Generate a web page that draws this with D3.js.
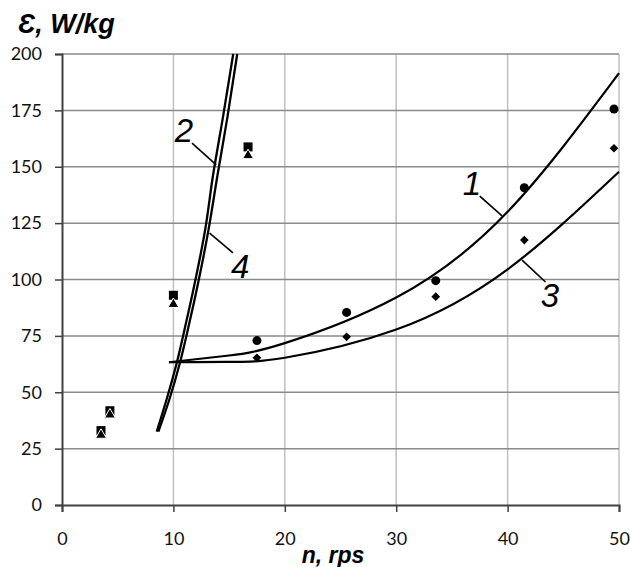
<!DOCTYPE html>
<html><head><meta charset="utf-8">
<script src="https://cdn.jsdelivr.net/npm/d3@7"></script>
<style>html,body{margin:0;padding:0;background:#fff;}</style>
</head><body>
<svg id="c" width="630" height="567"></svg>
<script>
// ---- data ----
const xTicks = [0, 10, 20, 30, 40, 50];
const yTicks = [0, 25, 50, 75, 100, 125, 150, 175, 200];

// measured points
const sqX = [3.5, 4.3, 10, 16.7];
const sqY = [33, 41.8, 93, 158.8];
const triX = [3.5, 4.3, 10, 16.7];
const triY = [31, 40, 89, 155];
const circX = [17.5, 25.55, 33.55, 41.5, 49.55];
const circY = [72.9, 85.4, 99.5, 140.7, 175.6];
const diaX = [17.5, 25.55, 33.55, 41.5, 49.55];
const diaY = [65.3, 74.6, 92.4, 117.5, 158.2];

// curves
const c1X = [9.6, 15, 20, 30, 40, 50];
const c1Y = [63.3, 66.3, 71.8, 92, 130, 191.5];
const c3X = [9.6, 15, 20, 30, 40, 50];
const c3Y = [63.3, 63.5, 65.3, 77.8, 104.5, 147.8];
const c2X = [8.5, 9.4, 10.3, 11.1, 11.9, 12.85, 13.55, 14.45, 15.37];
const c2Y = [32.5, 47, 63, 80, 98, 122, 146, 172, 200];
const c4X = [8.65, 9.65, 10.58, 11.4, 12.2, 13.15, 13.95, 14.85, 15.73];
const c4Y = [32.5, 47, 63, 80, 98, 122, 146, 172, 200];

// curve labels: text, label position, leader from, leader to (data units)
const labTxt = ["1", "2", "3", "4"];
const labX = [36.8, 10.95, 43.8, 16.0];
const labY = [137.5, 161, 87.6, 100.7];
const leadX1 = [37.5, 11.67, 41.3, 13.25];
const leadY1 = [137, 160.5, 108.6, 120.6];
const leadX2 = [39.5, 13.85, 43.4, 15.35];
const leadY2 = [128.2, 150.8, 98.9, 111.8];

const yTitle = "Ɛ, W/kg";
const xTitle = "n, rps";

// ---- drawing ----
const svg = d3.select("#c");
const x = d3.scaleLinear().domain([0, 50]).range([62, 619]);
const y = d3.scaleLinear().domain([0, 200]).range([505, 54]);

const tickFont = "Lato, 'Open Sans', sans-serif";

// vertical gridlines
svg.append("g").selectAll("line").data(xTicks.filter(d => d > 0)).join("line")
  .attr("x1", d => x(d)).attr("x2", d => x(d)).attr("y1", y(0)).attr("y2", y(200))
  .attr("stroke", "#c0c0c0").attr("stroke-width", 1.5);
// horizontal gridlines
svg.append("g").selectAll("line").data(yTicks.filter(d => d > 0)).join("line")
  .attr("x1", x(0)).attr("x2", x(50)).attr("y1", d => y(d)).attr("y2", d => y(d))
  .attr("stroke", "#8a8a8a").attr("stroke-width", 1.5);

// axes
const xAxis = d3.axisBottom(x).tickValues(xTicks).tickSize(7).tickPadding(20);
const yAxis = d3.axisLeft(y).tickValues(yTicks).tickSize(7).tickPadding(13);
const gx = svg.append("g").attr("transform", `translate(0,${y(0)})`).call(xAxis);
const gy = svg.append("g").attr("transform", `translate(${x(0)},0)`).call(yAxis);
[gx, gy].forEach(g => {
  g.select(".domain").attr("stroke", "#404040").attr("stroke-width", 2);
  g.selectAll(".tick line").attr("stroke", "#404040").attr("stroke-width", 1.5);
  g.selectAll(".tick text").attr("font-family", tickFont).attr("font-size", 18).attr("fill", "#111");
});

// curves
const line = (xs, ys, curve) => d3.line().x((d, i) => x(xs[i])).y((d, i) => y(ys[i])).curve(curve)(xs);
const curves = svg.append("g").attr("fill", "none").attr("stroke", "#000");
curves.append("path").attr("d", line(c1X, c1Y, d3.curveNatural)).attr("stroke-width", 2.2);
curves.append("path").attr("d", line(c3X, c3Y, d3.curveNatural)).attr("stroke-width", 2.2);
curves.append("path").attr("d", line(c2X, c2Y, d3.curveMonotoneY)).attr("stroke-width", 2.3);
curves.append("path").attr("d", line(c4X, c4Y, d3.curveMonotoneY)).attr("stroke-width", 2.3);

// markers
const pts = svg.append("g").attr("fill", "#000");
pts.selectAll(".sq").data(sqX).join("rect").attr("class", "sq")
  .attr("x", (d, i) => x(d) - 4.5).attr("y", (d, i) => y(sqY[i]) - 4.5)
  .attr("width", 9).attr("height", 9);
pts.selectAll(".tri").data(triX).join("path").attr("class", "tri")
  .attr("transform", (d, i) => `translate(${x(d)},${y(triY[i])})`)
  .attr("d", d3.symbol(d3.symbolTriangle, 52))
  .attr("stroke", "#fff").attr("stroke-width", 1);
pts.selectAll(".ci").data(circX).join("circle").attr("class", "ci")
  .attr("cx", d => x(d)).attr("cy", (d, i) => y(circY[i])).attr("r", 4.5);
pts.selectAll(".di").data(diaX).join("path").attr("class", "di")
  .attr("transform", (d, i) => `translate(${x(d)},${y(diaY[i])}) rotate(45)`)
  .attr("d", d3.symbol(d3.symbolSquare, 38));

// curve labels
const labs = svg.append("g");
labs.selectAll("line").data(labTxt).join("line")
  .attr("x1", (d, i) => x(leadX1[i])).attr("y1", (d, i) => y(leadY1[i]))
  .attr("x2", (d, i) => x(leadX2[i])).attr("y2", (d, i) => y(leadY2[i]))
  .attr("stroke", "#000").attr("stroke-width", 1.6);
labs.selectAll("text").data(labTxt).join("text")
  .attr("x", (d, i) => x(labX[i])).attr("y", (d, i) => y(labY[i]))
  .attr("text-anchor", "middle").attr("font-family", "'Liberation Sans', Arial, sans-serif")
  .attr("font-style", "italic").attr("font-size", 33).attr("fill", "#000")
  .text(d => d);

// axis titles
svg.append("text").attr("x", 18).attr("y", 33)
  .attr("font-family", "'Liberation Sans', Arial, sans-serif").attr("font-weight", "bold")
  .attr("font-style", "italic").attr("font-size", 27).attr("fill", "#000").text(yTitle);
svg.append("text").attr("x", 333).attr("y", 563).attr("text-anchor", "middle")
  .attr("font-family", "'Liberation Sans', Arial, sans-serif").attr("font-weight", "bold")
  .attr("font-style", "italic").attr("font-size", 23).attr("fill", "#000").text(xTitle);
</script>
</body></html>
